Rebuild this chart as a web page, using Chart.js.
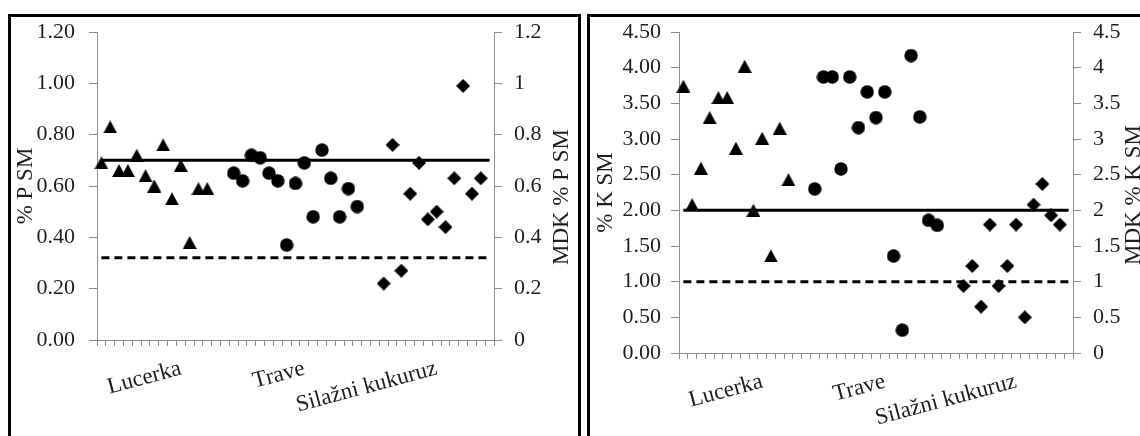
<!DOCTYPE html>
<html>
<head>
<meta charset="utf-8">
<title>P i K u krmivima</title>
<script src="https://cdn.jsdelivr.net/npm/chart.js@4.4.0/dist/chart.umd.min.js"></script>
<style>
  html, body { margin: 0; padding: 0; background: #fff; width: 1140px; height: 436px; overflow: hidden; }
  .panel { position: absolute; top: 14px; height: 500px; border: 3px solid #000; box-sizing: border-box; }
  #panelP { left: 8px; width: 573px; }
  #panelK { left: 587px; width: 600px; }
  canvas { position: absolute; top: 0; }
  #chartP { left: 0; }
  #chartK { left: 580px; }
</style>
</head>
<body>
<div class="panel" id="panelP"></div>
<div class="panel" id="panelK"></div>
<canvas id="chartP" width="580" height="436"></canvas>
<canvas id="chartK" width="560" height="436"></canvas>

<script>
// ---------------------------------------------------------
// Data
// ---------------------------------------------------------
const categoryCount = 45;
const categoryNames = ["Lucerka", "Trave", "Silažni kukuruz"];
const nameSlots = [9, 23, 38];          // category index that carries each name
const groupStarts = [0, 15, 32];        // first sample of each group

const lucerkaP = [0.69, 0.83, 0.66, 0.66, 0.72, 0.64, 0.60, 0.76, 0.55, 0.68, 0.38, 0.59, 0.59];
const traveP   = [0.65, 0.62, 0.72, 0.71, 0.65, 0.62, 0.37, 0.61, 0.69, 0.48, 0.74, 0.63, 0.48, 0.59, 0.52];
const kukuruzP = [0.22, 0.76, 0.27, 0.57, 0.69, 0.47, 0.50, 0.44, 0.63, 0.99, 0.57, 0.63];
const mdkP     = [0.70, 0.32];          // solid, dashed

const lucerkaK = [3.74, 2.08, 2.59, 3.30, 3.58, 3.58, 2.87, 4.02, 2.00, 3.01, 1.36, 3.15, 2.43];
const traveK   = [2.30, 3.87, 3.87, 2.58, 3.87, 3.16, 3.66, 3.30, 3.66, 1.36, 0.32, 4.17, 3.31, 1.86, 1.79];
const kukuruzK = [0.94, 1.22, 0.65, 1.80, 0.94, 1.22, 1.80, 0.50, 2.08, 2.37, 1.93, 1.80];
const mdkK     = [2.00, 1.00];

const pAxis = [0, 1.2, 0.2];            // min, max, step
const kAxis = [0, 4.5, 0.5];

// ---------------------------------------------------------
// Helpers
// ---------------------------------------------------------
const FONT = "'Liberation Serif', 'Times New Roman', serif";
const AXIS_GRAY = "#8e8e8e";
const TEXT = "#1e1e1e";

const categories = new Array(categoryCount).fill("");
nameSlots.forEach((slot, i) => { categories[slot] = categoryNames[i]; });

function placeSeries(values, start) {
  const out = new Array(categoryCount).fill(null);
  values.forEach((v, i) => { out[start + i] = v; });
  return out;
}

function refLine(value) {
  const out = new Array(categoryCount).fill(null);
  out[0] = value;
  out[categoryCount - 1] = value;
  return out;
}

// marker images so the shapes sit centred like the Excel ones
function marker(shape) {
  const c = document.createElement("canvas");
  c.width = 14;
  c.height = shape === "triangle" ? 13 : 14;
  const g = c.getContext("2d");
  g.fillStyle = "#000";
  g.beginPath();
  if (shape === "triangle") {
    g.moveTo(7, 0); g.lineTo(14, 13); g.lineTo(0, 13);
  } else if (shape === "diamond") {
    g.moveTo(7, 0); g.lineTo(14, 7); g.lineTo(7, 14); g.lineTo(0, 7);
  } else {
    g.arc(7, 7, 6.7, 0, Math.PI * 2);
  }
  g.closePath();
  g.fill();
  return c;
}
const triangleMark = marker("triangle");
const circleMark = marker("circle");
const diamondMark = marker("diamond");

// right-hand axis title, read bottom-to-top like the left one
const rightTitle = {
  id: "rightTitle",
  afterDraw(chart, args, opts) {
    const ctx = chart.ctx;
    ctx.save();
    ctx.translate(opts.x, opts.y);
    ctx.rotate(-Math.PI / 2);
    ctx.font = "23px " + FONT;
    ctx.fillStyle = TEXT;
    ctx.textAlign = "center";
    ctx.textBaseline = "middle";
    ctx.fillText(opts.text, 0, 0);
    ctx.restore();
  }
};

function pointSet(values, start, mark) {
  return {
    data: placeSeries(values, start),
    showLine: false,
    pointStyle: mark,
    pointRadius: 7,
    pointHoverRadius: 7
  };
}

function lineSet(value, dash) {
  return {
    data: refLine(value),
    yAxisID: "y2",
    spanGaps: true,
    borderColor: "#000",
    borderWidth: 3,
    borderDash: dash,
    pointRadius: 0,
    pointHoverRadius: 0
  };
}

function buildChart(id, cfg) {
  const [min, max, step] = cfg.axis;
  const yBase = {
    min: min,
    max: max,
    grid: { drawOnChartArea: false, tickLength: 8, color: AXIS_GRAY },
    border: { color: AXIS_GRAY }
  };
  return new Chart(document.getElementById(id), {
    type: "line",
    data: {
      labels: categories,
      datasets: [
        pointSet(cfg.series[0], groupStarts[0], triangleMark),
        pointSet(cfg.series[1], groupStarts[1], circleMark),
        pointSet(cfg.series[2], groupStarts[2], diamondMark),
        lineSet(cfg.mdk[0], []),
        lineSet(cfg.mdk[1], [8, 5])
      ]
    },
    options: {
      responsive: false,
      animation: false,
      layout: { padding: { top: 32, left: 0, right: 0, bottom: 0 } },
      plugins: {
        legend: { display: false },
        tooltip: { enabled: false },
        rightTitle: cfg.rightTitle
      },
      scales: {
        x: {
          offset: true,
          grid: { offset: true, drawOnChartArea: false, tickLength: 6, color: AXIS_GRAY },
          border: { color: AXIS_GRAY },
          ticks: {
            autoSkip: false,
            minRotation: 15,
            maxRotation: 15,
            padding: 9,
            color: TEXT,
            font: { family: FONT, size: 23 }
          },
          afterFit: s => { s.height = cfg.xHeight; }
        },
        y: Object.assign({}, yBase, {
          position: "left",
          ticks: {
            stepSize: step,
            padding: cfg.leftPad,
            color: TEXT,
            font: { family: FONT, size: 22 },
            callback: v => v.toFixed(2)
          },
          title: {
            display: true,
            text: cfg.leftTitle,
            color: TEXT,
            font: { family: FONT, size: 23 },
            padding: { top: 12, bottom: 0 }
          },
          afterFit: s => { s.width = cfg.leftWidth; }
        }),
        y2: Object.assign({}, yBase, {
          position: "right",
          ticks: {
            stepSize: step,
            padding: 12,
            color: TEXT,
            font: { family: FONT, size: 22 },
            callback: v => String(parseFloat(v.toFixed(1)))
          },
          afterFit: s => { s.width = cfg.rightWidth; }
        })
      }
    },
    plugins: [rightTitle]
  });
}

// ---------------------------------------------------------
// Panels
// ---------------------------------------------------------
buildChart("chartP", {
  axis: pAxis,
  series: [lucerkaP, traveP, kukuruzP],
  mdk: mdkP,
  leftTitle: "% P SM",
  rightTitle: { text: "MDK % P SM", x: 562, y: 197 },
  leftWidth: 97,
  rightWidth: 86,
  leftPad: 14,
  xHeight: 96
});

buildChart("chartK", {
  axis: kAxis,
  series: [lucerkaK, traveK, kukuruzK],
  mdk: mdkK,
  leftTitle: "% K SM",
  rightTitle: { text: "MDK % K SM", x: 554, y: 195 },
  leftWidth: 99,
  rightWidth: 67,
  leftPad: 10,
  xHeight: 83
});
</script>
</body>
</html>
